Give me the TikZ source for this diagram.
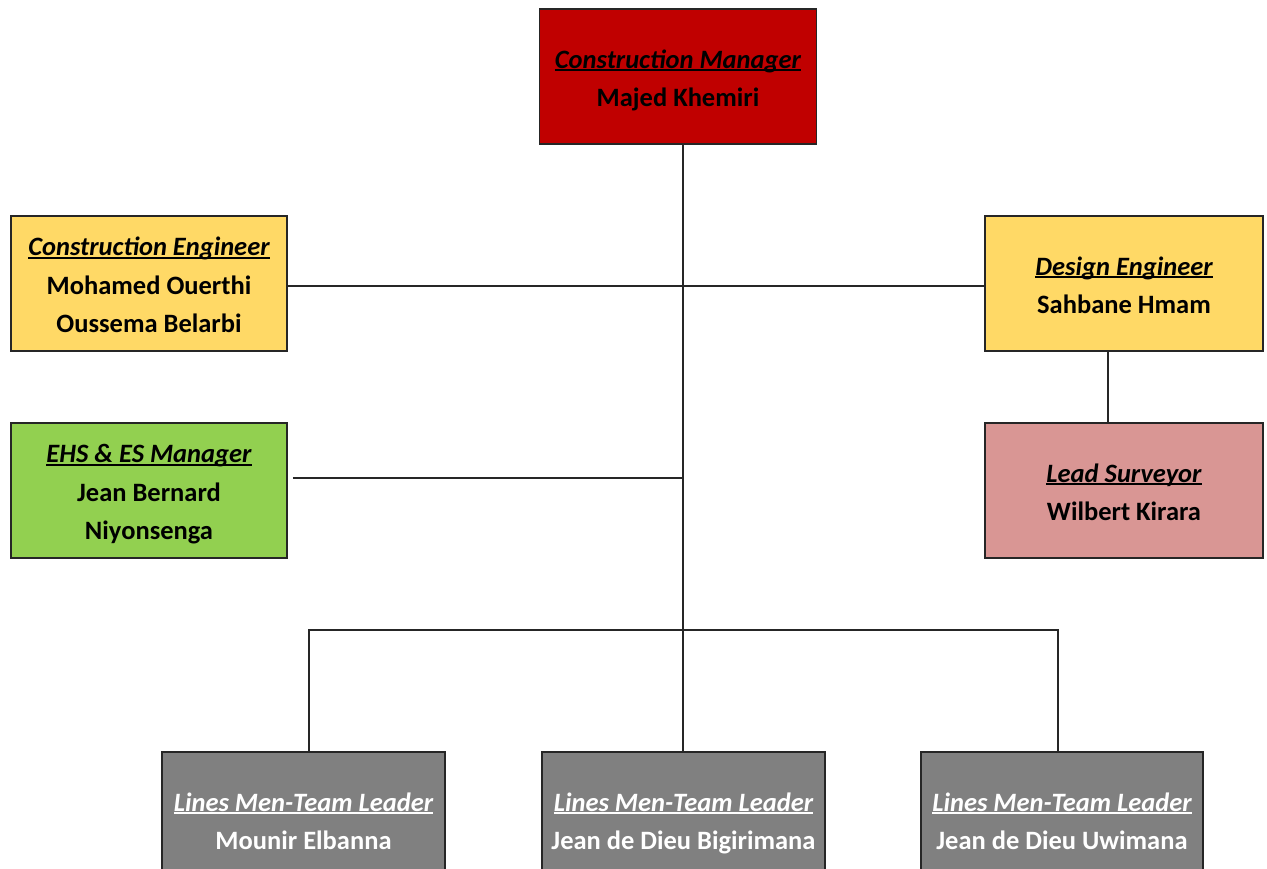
\documentclass[tikz,border=0pt]{standalone}
\usepackage{fontspec}
\setmainfont{Carlito}
\definecolor{cmred}{HTML}{C00000}
\definecolor{engyellow}{HTML}{FFD966}
\definecolor{ehsgreen}{HTML}{92D050}
\definecolor{lspink}{HTML}{D99694}
\definecolor{tlgray}{HTML}{808080}
\newsavebox\ttlbox
\newcommand\ttl[1]{\sbox\ttlbox{\itshape #1}\leavevmode\rlap{\usebox\ttlbox}\rule[-3pt]{\wd\ttlbox}{1.6pt}}
\newcommand\tstrut{\rule[-6.5pt]{0pt}{34.5pt}}
\tikzset{
  orgbox/.style={draw=black!85, line width=1.8pt, minimum width=277pt, minimum height=135pt,
    inner sep=0pt, align=center, font=\fontsize{26.5}{38.5}\selectfont\bfseries},
  wire/.style={draw=black!85, line width=1.5pt}
}
\begin{document}
\begin{tikzpicture}[x=1pt,y=-1pt]
\useasboundingbox (0,0) rectangle (1267,868);
\clip (0,0) rectangle (1267,868);
\node[orgbox, fill=cmred] (cm) at (678,76.5) {\tstrut\ttl{Construction Manager}\\Majed Khemiri\tstrut};
\node[orgbox, fill=engyellow, minimum width=276pt] (ce) at (149,283.5) {\tstrut\ttl{Construction Engineer}\\Mohamed Ouerthi\\Oussema Belarbi\tstrut};
\node[orgbox, fill=engyellow, minimum width=278pt] (de) at (1124,283.5) {\tstrut\ttl{Design Engineer}\\Sahbane Hmam\tstrut};
\node[orgbox, fill=ehsgreen, minimum width=276pt] (ehs) at (149,490.5) {\tstrut\ttl{EHS \& ES Manager}\\Jean Bernard\\Niyonsenga\tstrut};
\node[orgbox, fill=lspink, minimum width=278pt] (ls) at (1124,490.5) {\tstrut\ttl{Lead Surveyor}\\Wilbert Kirara\tstrut};
\node[orgbox, fill=tlgray, text=white, minimum width=283pt] (t1) at (303.5,819.5) {\tstrut\ttl{Lines Men-Team Leader}\\Mounir Elbanna\tstrut};
\node[orgbox, fill=tlgray, text=white, minimum width=283pt] (t2) at (683.5,819.5) {\tstrut\ttl{Lines Men-Team Leader}\\Jean de Dieu Bigirimana\tstrut};
\node[orgbox, fill=tlgray, text=white, minimum width=282pt] (t3) at (1062,819.5) {\tstrut\ttl{Lines Men-Team Leader}\\Jean de Dieu Uwimana\tstrut};
\coordinate (ta) at (683,144);
\coordinate (tb) at (683,752);
\coordinate (ehsj) at (683,478);
\coordinate (bl) at (309,630);
\coordinate (br) at (1058,630);
\coordinate (dls) at (1108,351);
\draw[wire] (ta) -- (tb);
\draw[wire] (ce.east |- 0,286) -- (de.west |- 0,286);
\draw[wire] ([xshift=5pt]ehs.east |- ehsj) -- (ehsj);
\draw[wire] (bl |- t1.north) -- (bl) -- (br) -- (br |- t3.north);
\draw[wire] (dls) -- (dls |- ls.north);
\end{tikzpicture}
\end{document}
